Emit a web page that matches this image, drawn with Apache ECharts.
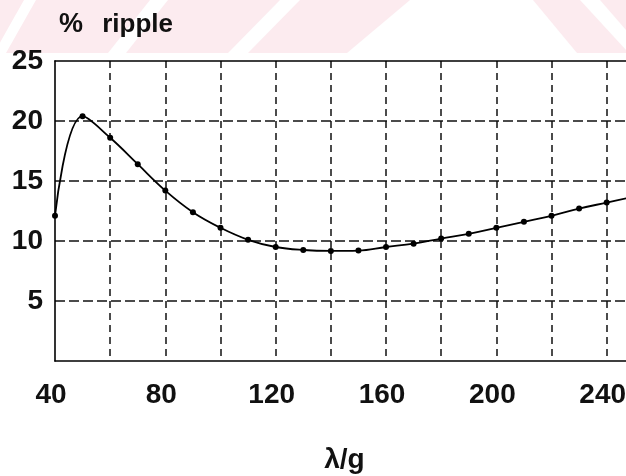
<!DOCTYPE html>
<html>
<head>
<meta charset="utf-8">
<script src="https://cdn.jsdelivr.net/npm/echarts@6/dist/echarts.min.js"></script>
<style>
html,body{margin:0;padding:0;background:#ffffff;}
#chart{width:626px;height:476px;}
</style>
</head>
<body>
<div id="chart"></div>
<script>
// ---- data ----
const xValues = [40, 50, 60, 70, 80, 90, 100, 110, 120, 130, 140, 150, 160, 170, 180, 190, 200, 210, 220, 230, 240, 250];
const rippleValues = [12.1, 20.4, 18.6, 16.4, 14.2, 12.4, 11.1, 10.1, 9.5, 9.25, 9.17, 9.2, 9.5, 9.78, 10.2, 10.6, 11.1, 11.6, 12.1, 12.7, 13.2, 13.7];
const xTickLabels = [40, 80, 120, 160, 200, 240];
const yTickLabels = [5, 10, 15, 20, 25];
const titleSymbol = '%';
const titleWord = 'ripple';
const xAxisName = 'λ/g';

const FONT = "'Liberation Sans', Arial, sans-serif";
const seriesData = xValues.map((x, i) => [x, rippleValues[i]]);

const chart = echarts.init(document.getElementById('chart'), null, {renderer: 'canvas'});

const pink = '#fcebef';
const titleFont = {fontFamily: FONT, fontSize: 26, fontWeight: 'bold', color: '#111'};
const option = {
  backgroundColor: '#ffffff',
  animation: false,
  graphic: [
    {type: 'rect', z: -10, silent: true, shape: {x: 0, y: 0, width: 626, height: 53}, style: {fill: pink}},
    {type: 'polygon', z: -9, silent: true, shape: {points: [[24,0],[36,0],[6,53],[-6,53]]}, style: {fill: '#ffffff'}},
    {type: 'polygon', z: -9, silent: true, shape: {points: [[150,0],[168,0],[126,53],[108,53]]}, style: {fill: '#ffffff'}},
    {type: 'polygon', z: -9, silent: true, shape: {points: [[280,0],[300,0],[248,53],[228,53]]}, style: {fill: '#ffffff'}},
    {type: 'polygon', z: -9, silent: true, shape: {points: [[410,0],[533,0],[577,53],[347,53]]}, style: {fill: '#ffffff'}},
    {type: 'polygon', z: -9, silent: true, shape: {points: [[580,0],[600,0],[626,30],[626,50]]}, style: {fill: '#ffffff'}}
  ],
  title: {
    text: '{p|' + titleSymbol + '} {r|' + titleWord + '}',
    left: 54,
    top: 6,
    textStyle: Object.assign({}, titleFont, {
      rich: {
        p: Object.assign({}, titleFont, {fontSize: 27, padding: [0, 6, 0, 0]}),
        r: Object.assign({}, titleFont, {padding: [0, 0, 0, 6]})
      }
    })
  },
  grid: {left: 55, right: 0, top: 61, bottom: 115, containLabel: false, outerBoundsMode: 'none'},
  xAxis: [
    {
      type: 'value',
      position: 'bottom',
      min: 40,
      max: 247,
      interval: 20,
      name: xAxisName,
      nameLocation: 'middle',
      nameGap: 85,
      nameTextStyle: {fontFamily: FONT, fontSize: 28, fontWeight: 'bold', color: '#111', padding: [0, 0, 0, 8]},
      axisLine: {show: true, lineStyle: {color: '#000', width: 1.6}},
      axisTick: {show: false},
      axisLabel: {
        show: true,
        margin: 20,
        fontFamily: FONT,
        fontSize: 28,
        fontWeight: 'bold',
        color: '#111',
        padding: [0, 8, 0, 0],
        formatter: v => (xTickLabels.indexOf(v) >= 0 ? String(v) : '')
      },
      splitLine: {
        show: true,
        showMinLine: false,
        showMaxLine: false,
        lineStyle: {color: '#111', width: 1.5, type: [7, 5]}
      }
    },
    {
      type: 'value',
      position: 'top',
      min: 40,
      max: 247,
      interval: 20,
      axisLine: {show: true, lineStyle: {color: '#000', width: 1.6}},
      axisTick: {show: false},
      axisLabel: {show: false},
      splitLine: {show: false}
    }
  ],
  yAxis: {
    type: 'value',
    min: 0,
    max: 25,
    interval: 5,
    axisLine: {show: true, lineStyle: {color: '#000', width: 1.6}},
    axisTick: {show: false},
    axisLabel: {
      show: true,
      margin: 12,
      fontFamily: FONT,
      fontSize: 28,
      fontWeight: 'bold',
      color: '#111',
      padding: [7, 0, 0, 0],
      formatter: v => (yTickLabels.indexOf(v) >= 0 ? String(v) : '')
    },
    splitLine: {
      show: true,
      showMinLine: false,
      showMaxLine: false,
      lineStyle: {color: '#111', width: 1.5, type: [10, 4]}
    }
  },
  series: [
    {
      type: 'line',
      xAxisIndex: 0,
      data: seriesData,
      smooth: 0.4,
      clip: true,
      symbol: 'circle',
      symbolSize: 6,
      showSymbol: true,
      lineStyle: {color: '#000', width: 1.8},
      itemStyle: {color: '#000'},
      z: 5
    }
  ]
};
chart.setOption(option);
</script>
</body>
</html>
